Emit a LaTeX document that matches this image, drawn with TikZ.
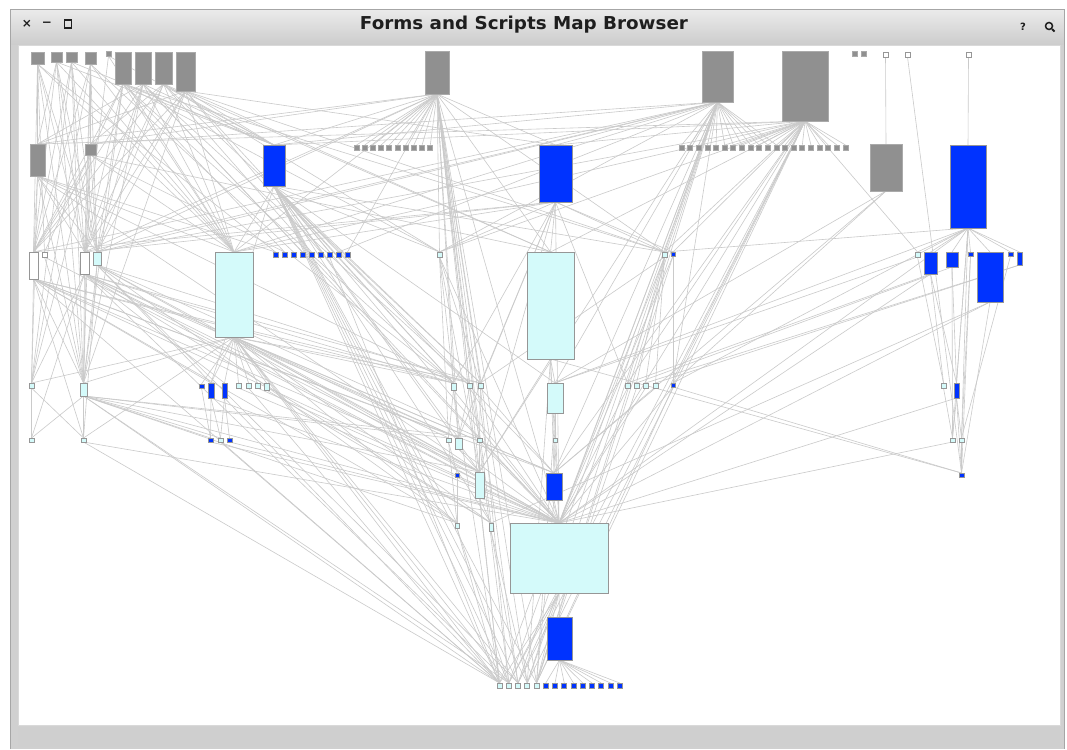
\documentclass[tikz,border=0pt]{standalone}
\usepackage{fontspec}
\setmainfont{DejaVu Sans}
\usepackage{graphicx}
\pgfdeclarelayer{bg}\pgfdeclarelayer{links}\pgfsetlayers{bg,links,main}
\definecolor{gfill}{RGB}{144,144,144}
\definecolor{gline}{RGB}{170,170,170}
\definecolor{bfill}{RGB}{0,51,255}
\definecolor{cfill}{RGB}{212,250,250}
\definecolor{nline}{RGB}{150,150,150}
\definecolor{edgec}{RGB}{202,202,202}
\definecolor{framec}{RGB}{208,208,208}
\definecolor{titlec}{RGB}{30,30,30}
\tikzset{
  base/.style={rectangle, inner sep=0pt, outer sep=0pt, line width=0.7pt},
  gb/.style={base, fill=gfill, draw=gline},
  bb/.style={base, fill=bfill, draw=nline},
  cb/.style={base, fill=cfill, draw=nline},
  wb/.style={base, fill=white, draw=nline},
  lnk/.style={draw=edgec, line width=0.6pt},
  icon/.style={inner sep=0pt, text=titlec, font=\bfseries\fontsize{12}{13}\selectfont}
}
\newcommand\bx[6]{%
  \pgfmathsetmacro\bxw{(#4)-(#2)}\pgfmathsetmacro\bxh{(#5)-(#3)}%
  \pgfmathsetmacro\bxx{((#2)+(#4))/2}\pgfmathsetmacro\bxy{((#3)+(#5))/2}%
  \node[#6,minimum width=\bxw pt,minimum height=\bxh pt] (#1) at (\bxx,\bxy) {};}
\begin{document}
\begin{tikzpicture}[x=1pt,y=-1pt]
\useasboundingbox (0,0) rectangle (1067,749);
\begin{pgfonlayer}{bg}
  \fill[white] (0,0) rectangle (1067,749);
  \fill[framec] (10,9) rectangle (1064,749);
  \shade[top color=black!8, bottom color=black!20] (10.5,9.5) rectangle (1063.5,45);
  \draw[black!35, line width=0.8pt] (10,749) -- (10,9) -- (1064,9) -- (1064,749);
  \fill[white] (18,45) rectangle (1060,725);
  \draw[black!15, line width=0.6pt] (18,45) rectangle (1060,725);
  \fill[black!19] (18,727) rectangle (1060,747);
\end{pgfonlayer}
% title bar
\node[inner sep=0pt, text=titlec, anchor=base] (title) at (524,30) {\resizebox{328pt}{13.5pt}{\bfseries Forms and Scripts Map Browser}};
\node[icon] (closeic) at (27,24) {×};
\node[icon] (minic) at (47,24) {−};
\node[draw=titlec, line width=1.5pt, minimum width=7pt, minimum height=8pt, inner sep=0pt] (maxic) at (68,24) {};
\node[icon, font=\bfseries\fontsize{10}{11}\selectfont] (helpic) at (1023,27) {?};
\node[draw=titlec, line width=1.5pt, circle, minimum size=7pt, inner sep=0pt] (findic) at (1049,26) {};
\draw[titlec, line width=1.8pt] (findic.south east) -- ++(2.5,2.5);
% row 1
\bx{g1}{31}{52}{44}{64}{gb}
\bx{g2}{51}{52}{62}{62}{gb}
\bx{g3}{66}{52}{77}{62}{gb}
\bx{g4}{85}{52}{96}{64}{gb}
\bx{g5}{106}{51}{111}{56}{gb}
\bx{g6}{115}{52}{131}{84}{gb}
\bx{g7}{135}{52}{151}{84}{gb}
\bx{g8}{155}{52}{172}{84}{gb}
\bx{g9}{176}{52}{195}{91}{gb}
\bx{g10}{425}{51}{449}{94}{gb}
\bx{g11}{702}{51}{733}{102}{gb}
\bx{g12}{782}{51}{828}{121}{gb}
\bx{g13}{852}{51}{857}{56}{gb}
\bx{g14}{861}{51}{866}{56}{gb}
\bx{w1}{883}{52}{888}{57}{wb}
\bx{w2}{905}{52}{910}{57}{wb}
\bx{w3}{966}{52}{971}{57}{wb}
% row 2
\bx{h1}{30}{144}{45}{176}{gb}
\bx{h2}{85}{144}{96}{155}{gb}
\bx{b1}{263}{145}{285}{186}{bb}
\foreach \i in {1,...,10}{\pgfmathsetmacro\xx{354+8.2*(\i-1)}\bx{gr\i}{\xx}{145}{\xx+5}{150}{gb}}
\bx{b2}{539}{145}{572}{202}{bb}
\foreach \i in {1,...,20}{\pgfmathsetmacro\xx{679+8.63*(\i-1)}\bx{gs\i}{\xx}{145}{\xx+5}{150}{gb}}
\bx{h3}{870}{144}{902}{191}{gb}
\bx{b3}{950}{145}{986}{228}{bb}
% row 3
\bx{ra}{29}{252}{38}{279}{wb}
\bx{rb}{42}{252}{47}{257}{wb}
\bx{rc}{80}{252}{89}{274}{wb}
\bx{rd}{93}{252}{101}{265}{cb}
\bx{c1}{215}{252}{253}{337}{cb}
\foreach \i in {1,...,9}{\pgfmathsetmacro\xx{273+9*(\i-1)}\bx{bs\i}{\xx}{252}{\xx+5}{257}{bb}}
\bx{re}{437}{252}{442}{257}{cb}
\bx{c2}{527}{252}{574}{359}{cb}
\bx{rf}{662}{252}{667}{257}{cb}
\bx{rg}{671}{252}{675}{256}{bb}
\bx{rh}{915}{252}{920}{257}{cb}
\bx{ri}{924}{252}{937}{274}{bb}
\bx{rj}{946}{252}{958}{267}{bb}
\bx{rk}{968}{252}{973}{256}{bb}
\bx{b4}{977}{252}{1003}{302}{bb}
\bx{rl}{1008}{252}{1013}{256}{bb}
\bx{rm}{1017}{252}{1022}{265}{bb}
% row 4
\bx{sa}{29}{383}{34}{388}{cb}
\bx{sb}{80}{383}{87}{396}{cb}
\bx{sc}{199}{384}{204}{388}{bb}
\bx{sd}{208}{383}{214}{398}{bb}
\bx{se}{222}{383}{227}{398}{bb}
\bx{sf}{236}{383}{241}{388}{cb}
\bx{sg}{246}{383}{251}{388}{cb}
\bx{sh}{255}{383}{260}{388}{cb}
\bx{si}{264}{383}{269}{390}{cb}
\bx{sj}{451}{383}{456}{390}{cb}
\bx{sk}{467}{383}{472}{388}{cb}
\bx{sl}{478}{383}{483}{388}{cb}
\bx{c3}{547}{383}{563}{413}{cb}
\bx{sm}{625}{383}{630}{388}{cb}
\bx{sn}{634}{383}{639}{388}{cb}
\bx{so}{643}{383}{648}{388}{cb}
\bx{sp}{653}{383}{658}{388}{cb}
\bx{sq}{671}{383}{675}{387}{bb}
\bx{sr}{941}{383}{946}{388}{cb}
\bx{ss}{954}{383}{959}{398}{bb}
% row 5
\bx{ta}{29}{438}{34}{442}{cb}
\bx{tb}{81}{438}{86}{442}{cb}
\bx{tc}{208}{438}{213}{442}{bb}
\bx{td}{218}{438}{223}{442}{cb}
\bx{te}{227}{438}{232}{442}{bb}
\bx{tf}{446}{438}{451}{442}{cb}
\bx{tg}{455}{438}{462}{449}{cb}
\bx{th}{477}{438}{482}{442}{cb}
\bx{ti}{553}{438}{557}{442}{cb}
\bx{tj}{950}{438}{955}{442}{cb}
\bx{tk}{959}{438}{964}{442}{cb}
% row 6
\bx{ua}{455}{473}{459}{477}{bb}
\bx{ub}{475}{472}{484}{498}{cb}
\bx{b5}{546}{473}{562}{500}{bb}
\bx{uc}{959}{473}{964}{477}{bb}
% row 7
\bx{va}{455}{523}{459}{528}{cb}
\bx{vb}{489}{523}{493}{531}{cb}
\bx{c4}{510}{523}{608}{593}{cb}
% row 8
\bx{b6}{547}{617}{572}{660}{bb}
% row 9
\foreach \i in {1,...,5}{\pgfmathsetmacro\xx{497+9.25*(\i-1)}\bx{q\i}{\xx}{683}{\xx+5}{688}{cb}}
\foreach \i in {6,...,14}{\pgfmathsetmacro\xx{497+9.25*(\i-1)}\bx{q\i}{\xx}{683}{\xx+5}{688}{bb}}
% connectors
\begin{pgfonlayer}{links}
\foreach \i in {1,...,10}{\draw[lnk] (g10.south) -- (gr\i.north);}
\foreach \i in {1,...,12}{\draw[lnk] (g11.south) -- (gs\i.north);}
\foreach \i in {6,...,20}{\draw[lnk] (g12.south) -- (gs\i.north);}
\foreach \i in {6,...,14}{\draw[lnk] (b6.south) -- (q\i.north);}
\foreach \a/\b in {
 g1/h1, g1/ra, g1/rb, g1/rc, g1/rd, g1/sb, g1/bs1, g1/c1,
 g2/ra, g2/rc, g2/rd, g2/c1, g2/sb, g2/h1, g2/b1,
 g3/ra, g3/rc, g3/sb, g3/c1, g3/b1, g3/rd, g3/sa,
 g4/h2, g4/rc, g4/rd, g4/sb, g4/c1, g4/sa, g4/bs3, g4/ra,
 g5/rc, g5/c1, g5/b1,
 g6/ra, g6/rb, g6/rc, g6/rd, g6/c1, g6/b1, g6/sb, g6/bs2, g6/sj, g6/re, g6/rf,
 g7/ra, g7/rc, g7/rd, g7/c1, g7/b1, g7/sb, g7/bs4, g7/sk, g7/c4, g7/h1,
 g8/ra, g8/rc, g8/rd, g8/c1, g8/b1, g8/bs5, g8/sl, g8/c2, g8/re, g8/h2,
 g9/ra, g9/rc, g9/rd, g9/c1, g9/b1, g9/bs6, g9/c2, g9/sj, g9/b2, g9/rf, g9/h1, g9/sb,
 h1/ra, h1/rc, h1/sa, h1/sb, h1/c1, h1/bs1, h1/sj, h1/ub, h1/rd,
 h2/rc, h2/rd, h2/sb, h2/c1, h2/sa, h2/bs2, h2/c2, h2/ra,
 g10/b2, g10/h1, g10/h2, g10/b1, g10/rd, g10/rc, g10/c1, g10/re, g10/sj, g10/sk, g10/sl,
 g10/tg, g10/ub, g10/vb, g10/q1, g10/q2, g10/q3, g10/q4, g10/q5, g10/c4, g10/rf, g10/c2, g10/bs9,
 g11/b1, g11/h2, g11/rd, g11/rc, g11/ra, g11/c1, g11/b2, g11/re, g11/rf, g11/sq, g11/c4, g11/b5,
 g11/q1, g11/q2, g11/q3, g11/q4, g11/q5, g11/c3, g11/ub, g11/bs8,
 g12/b1, g12/b2, g12/rd, g12/c1, g12/h1, g12/re, g12/rf, g12/rg, g12/c4, g12/q2, g12/q3,
 g12/q4, g12/q5, g12/sq, g12/sm, g12/b5, g12/c2, g12/rh,
 b1/c1, b1/sj, b1/sk, b1/sl, b1/c3, b1/ub, b1/tg, b1/c4, b1/q1, b1/q2, b1/q3, b1/q4, b1/q5,
 b1/va, b1/vb, b1/b5, b1/rf, b1/re, b1/sd, b1/bs7,
 b2/c2, b2/re, b2/rf, b2/rg, b2/c1, b2/sj, b2/sl, b2/tg, b2/ub, b2/c4, b2/rc, b2/sm, b2/ra,
 c1/sb, c1/sa, c1/sc, c1/sd, c1/se, c1/sf, c1/sg, c1/sh, c1/si, c1/tg, c1/ub, c1/va, c1/vb,
 c1/c4, c1/q1, c1/q2, c1/q3, c1/b5, c1/sj, c1/tb, c1/tf, c1/sl,
 ra/sa, ra/sj, ra/sk, ra/ub, ra/c4, ra/tg, ra/va, ra/b5, ra/q1, ra/sb, ra/sd, ra/tb,
 rb/sb, rb/c4,
 rc/sb, rc/c4, rc/ub, rc/vb, rc/sj, rc/sl, rc/q2, rc/tg, rc/sa, rc/se, rc/ta, rc/b5,
 rd/sb, rd/c4, rd/sk, rd/ub, rd/q3, rd/sd, rd/tb, rd/th, rd/va,
 bs3/sj, bs5/c4, bs7/q1,
 re/c4, re/sj, re/sl, re/tf, re/ub,
 c2/c3, c2/uc, c2/c4, c2/b5, c2/ub, c2/q4,
 rf/sm, rf/sn, rf/so, rf/sp, rf/c4, rf/sl,
 rg/sq, rg/c4, rg/q5,
 sa/ta, sa/tb,
 sb/tb, sb/ta, sb/tc, sb/td, sb/c4, sb/va, sb/q1, sb/ub, sb/th, sb/tf, sb/q2,
 sc/tc, sd/tc, sd/td, sd/c4, se/te, se/td, se/q1, sf/c4, sg/q1, sh/c4, si/vb,
 sj/tf, sj/tg, sj/c4, sj/q1,
 sk/tg, sk/th, sk/c4,
 sl/th, sl/b5, sl/q2,
 c3/ti, c3/c4, c3/q5,
 sm/c4, sn/q5, so/c4, sp/b5, sq/uc, sq/c4, sq/q5,
 tf/ua, tf/va, tg/ub, tg/c4, th/ub, th/c4, ti/b5, tc/c4, td/q1, te/c4, tb/c4, tb/q1,
 ua/va, ub/vb, ub/c4, ub/q1, b5/c4, b5/q5,
 va/q1, va/q2, vb/q3, vb/q4, c4/b6, c4/q1, c4/q2, c4/q3, c4/q4, c4/q5,
 w1/h3, w3/b3, w2/uc,
 b3/rh, b3/ri, b3/rj, b3/rk, b3/b4, b3/rl, b3/rm, b3/ss, b3/tj, b3/tk, b3/sq, b3/c3, b3/c4, b3/rf,
 h3/c3, h3/b5, h3/sq,
 rh/c3, rh/sr, ri/sr, ri/sm, ri/c4, ri/ss, rj/ss, rj/tj, rj/sn, rk/tk, rk/uc,
 b4/uc, b4/c4, b4/vb, rl/tk, rm/so, rm/sp,
 sr/tj, ss/tj, ss/tk, ss/c4, ss/uc, tj/c4, tk/uc}
 {\draw[lnk] (\a.south) -- (\b.north);}
\end{pgfonlayer}
\end{tikzpicture}
\end{document}
